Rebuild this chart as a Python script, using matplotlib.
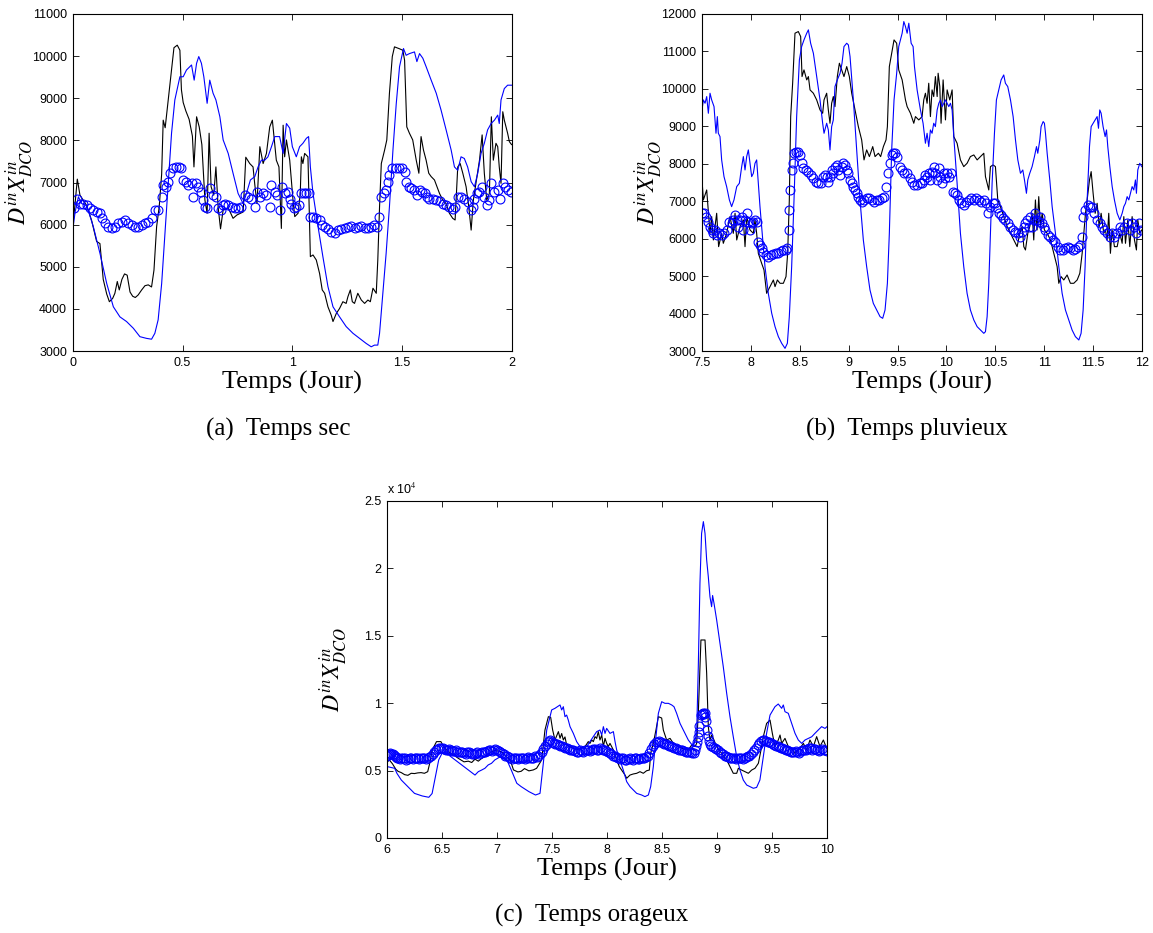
"""DCO inflow: measured (black), model (blue line) and filtered (circles) for three weather cases."""
import numpy as np
import matplotlib
matplotlib.use("Agg")
import matplotlib.pyplot as plt
from matplotlib.ticker import FuncFormatter

# ---- (a) Temps sec : (jour, valeur) ----
SEC_BLACK = [
    (0.000, 5950), (0.009, 6400), (0.021, 7080), (0.033, 6700), (0.064, 6450), (0.086, 6100),
    (0.109, 5600), (0.124, 5550), (0.139, 4700), (0.155, 4350), (0.167, 4170), (0.182, 4250),
    (0.192, 4370), (0.203, 4650), (0.212, 4450), (0.224, 4700), (0.236, 4830), (0.248, 4800),
    (0.261, 4400), (0.273, 4300), (0.285, 4270), (0.298, 4330), (0.314, 4450), (0.329, 4550),
    (0.344, 4570), (0.359, 4520), (0.370, 4920), (0.382, 5950), (0.394, 6430), (0.405, 7200),
    (0.412, 8480), (0.421, 8300), (0.435, 8960), (0.450, 9670), (0.461, 10200), (0.476, 10260),
    (0.488, 10140), (0.495, 9200), (0.503, 8900), (0.515, 8700), (0.530, 8500), (0.545, 8100),
    (0.552, 7370), (0.564, 8560), (0.576, 8320), (0.588, 7900), (0.602, 6580), (0.612, 6270),
    (0.621, 8170), (0.630, 6900), (0.642, 6700), (0.652, 7370), (0.662, 6420), (0.673, 5900),
    (0.685, 6350), (0.708, 6400), (0.730, 6150), (0.748, 6230), (0.776, 6300), (0.788, 7600),
    (0.806, 7450), (0.821, 7370), (0.829, 6950), (0.839, 6500), (0.852, 7850), (0.867, 7450),
    (0.882, 7690), (0.897, 8320), (0.909, 8480), (0.927, 7530), (0.939, 7370), (0.950, 5910),
    (0.958, 8360), (0.965, 7610), (0.973, 8010), (0.988, 7530), (1.003, 6580), (1.011, 6190),
    (1.026, 6270), (1.036, 6740), (1.041, 7610), (1.048, 7450), (1.056, 7690), (1.071, 7610),
    (1.082, 5240), (1.094, 5280), (1.109, 5160), (1.124, 4840), (1.136, 4450), (1.147, 4370),
    (1.162, 4050), (1.177, 3850), (1.185, 3700), (1.200, 3890), (1.215, 4010), (1.230, 4170),
    (1.245, 4130), (1.253, 4290), (1.264, 4450), (1.273, 4170), (1.283, 4130), (1.298, 4370),
    (1.314, 4210), (1.329, 4130), (1.344, 4210), (1.355, 4170), (1.367, 4490), (1.382, 4370),
    (1.389, 5160), (1.397, 6425), (1.405, 7450), (1.420, 7770), (1.430, 8010), (1.442, 9120),
    (1.455, 9990), (1.465, 10220), (1.485, 10180), (1.503, 10140), (1.511, 9900), (1.521, 8320),
    (1.533, 8170), (1.548, 8010), (1.564, 7530), (1.576, 7220), (1.586, 8090), (1.597, 7770),
    (1.609, 7530), (1.621, 7220), (1.632, 7140), (1.647, 7060), (1.670, 6740), (1.685, 6580),
    (1.700, 6500), (1.715, 6270), (1.730, 6150), (1.741, 6110), (1.753, 7370), (1.764, 7450),
    (1.776, 7220), (1.791, 6900), (1.803, 6430), (1.814, 5870), (1.824, 6580), (1.836, 6980),
    (1.852, 7530), (1.864, 8130), (1.874, 7220), (1.885, 6580), (1.897, 6740), (1.906, 8560),
    (1.915, 7530), (1.927, 7930), (1.935, 7850), (1.942, 7370), (1.950, 6980), (1.958, 8680),
    (1.965, 8480), (1.973, 8320), (1.980, 8170), (1.988, 7970), (1.998, 7900),
]
SEC_BLUE = [
    (0.000, 5870), (0.011, 6300), (0.026, 6660), (0.041, 6500), (0.064, 6450), (0.094, 5950),
    (0.124, 5320), (0.155, 4600), (0.185, 4050), (0.215, 3810), (0.245, 3700), (0.276, 3540),
    (0.306, 3340), (0.336, 3300), (0.359, 3280), (0.374, 3420), (0.389, 3740), (0.405, 4600),
    (0.420, 5790), (0.435, 6980), (0.450, 8170), (0.465, 8960), (0.488, 9510), (0.503, 9510),
    (0.518, 9670), (0.541, 9790), (0.553, 9430), (0.564, 9830), (0.574, 9990), (0.586, 9830),
    (0.597, 9510), (0.612, 8880), (0.624, 9430), (0.639, 9120), (0.652, 8960), (0.670, 8560),
    (0.685, 8010), (0.708, 7690), (0.730, 7220), (0.753, 6740), (0.776, 6500), (0.791, 6740),
    (0.809, 7060), (0.829, 7140), (0.844, 7370), (0.859, 7530), (0.874, 7530), (0.889, 7610),
    (0.905, 7850), (0.920, 8090), (0.942, 8090), (0.958, 7690), (0.973, 8400), (0.988, 8290),
    (1.000, 7850), (1.018, 7610), (1.033, 7850), (1.048, 7930), (1.064, 8050), (1.074, 8090),
    (1.082, 7370), (1.094, 6740), (1.117, 5950), (1.139, 5240), (1.162, 4530), (1.185, 4050),
    (1.215, 3810), (1.245, 3580), (1.276, 3420), (1.306, 3300), (1.336, 3180), (1.359, 3100),
    (1.374, 3140), (1.389, 3140), (1.397, 3420), (1.412, 4370), (1.427, 5320), (1.442, 6425),
    (1.458, 7770), (1.473, 8870), (1.488, 9750), (1.506, 10180), (1.518, 10020), (1.533, 10060),
    (1.556, 10100), (1.567, 9870), (1.579, 10060), (1.594, 9950), (1.609, 9750), (1.632, 9430),
    (1.655, 9120), (1.677, 8720), (1.700, 8250), (1.723, 7770), (1.738, 7370), (1.753, 7290),
    (1.768, 7610), (1.783, 7570), (1.798, 7370), (1.814, 7020), (1.829, 6900), (1.844, 7220),
    (1.859, 7690), (1.874, 7930), (1.889, 8250), (1.905, 8400), (1.920, 8480), (1.935, 8600),
    (1.942, 8400), (1.950, 8960), (1.965, 9230), (1.980, 9310), (1.998, 9310),
]
SEC_CIRC = [
    (0.006, 6390), (0.021, 6620), (0.033, 6500), (0.048, 6480), (0.064, 6460), (0.079, 6390),
    (0.094, 6350), (0.109, 6310), (0.124, 6270), (0.132, 6150), (0.147, 6030), (0.162, 5950),
    (0.177, 5910), (0.192, 5950), (0.208, 6030), (0.223, 6070), (0.238, 6110), (0.253, 6050),
    (0.268, 5990), (0.283, 5950), (0.298, 5950), (0.314, 5990), (0.329, 6030), (0.344, 6070),
    (0.359, 6150), (0.374, 6350), (0.389, 6350), (0.405, 6660), (0.412, 6940), (0.423, 6900),
    (0.435, 7020), (0.442, 7220), (0.455, 7340), (0.470, 7370), (0.485, 7370), (0.495, 7340),
    (0.503, 7060), (0.515, 7020), (0.526, 6940), (0.541, 6980), (0.548, 6660), (0.561, 6980),
    (0.571, 6900), (0.583, 6780), (0.594, 6580), (0.603, 6430), (0.612, 6390), (0.624, 6860),
    (0.639, 6700), (0.652, 6660), (0.662, 6390), (0.673, 6350), (0.682, 6470), (0.695, 6500),
    (0.709, 6470), (0.723, 6430), (0.738, 6390), (0.753, 6390), (0.768, 6430), (0.783, 6700),
    (0.798, 6660), (0.814, 6620), (0.829, 6430), (0.839, 6780), (0.852, 6660), (0.867, 6740),
    (0.882, 6700), (0.897, 6430), (0.905, 6940), (0.920, 6780), (0.930, 6700), (0.942, 6350),
    (0.955, 6900), (0.965, 6740), (0.980, 6780), (0.988, 6620), (0.995, 6500), (1.006, 6390),
    (1.018, 6430), (1.030, 6470), (1.041, 6740), (1.052, 6740), (1.064, 6740), (1.076, 6740),
    (1.082, 6190), (1.094, 6190), (1.109, 6150), (1.124, 6110), (1.136, 5990), (1.147, 5950),
    (1.162, 5890), (1.177, 5830), (1.192, 5790), (1.208, 5870), (1.223, 5890), (1.238, 5910),
    (1.253, 5950), (1.268, 5970), (1.283, 5910), (1.298, 5950), (1.314, 5970), (1.329, 5910),
    (1.344, 5910), (1.359, 5950), (1.374, 5990), (1.385, 5950), (1.394, 6190), (1.405, 6660),
    (1.415, 6740), (1.427, 6820), (1.435, 7020), (1.442, 7180), (1.455, 7340), (1.470, 7340),
    (1.485, 7340), (1.500, 7340), (1.511, 7260), (1.518, 7020), (1.530, 6900), (1.541, 6860),
    (1.556, 6820), (1.567, 6700), (1.579, 6820), (1.591, 6780), (1.602, 6740), (1.612, 6660),
    (1.624, 6620), (1.639, 6600), (1.655, 6580), (1.670, 6560), (1.685, 6500), (1.700, 6470),
    (1.715, 6410), (1.730, 6370), (1.742, 6430), (1.753, 6660), (1.768, 6660), (1.783, 6620),
    (1.798, 6540), (1.814, 6350), (1.821, 6430), (1.829, 6620), (1.839, 6740), (1.852, 6780),
    (1.862, 6900), (1.874, 6660), (1.885, 6470), (1.897, 6580), (1.906, 6980), (1.920, 6780),
    (1.935, 6820), (1.945, 6620), (1.958, 6980), (1.970, 6900), (1.980, 6820), (1.995, 6780),
]

# ---- (b) Temps pluvieux ----
PLUIE_BLACK = [
    (7.500, 7568), (7.514, 7034), (7.548, 7301), (7.582, 6143), (7.599, 6589), (7.616, 5965),
    (7.633, 6322), (7.650, 6678), (7.670, 5787), (7.701, 6143), (7.718, 5876), (7.752, 6143),
    (7.786, 6589), (7.820, 6143), (7.838, 6678), (7.855, 5965), (7.889, 6322), (7.923, 6500),
    (7.940, 5787), (7.957, 6589), (7.991, 6232), (8.025, 6143), (8.042, 6500), (8.059, 6143),
    (8.076, 5609), (8.110, 5342), (8.134, 5164), (8.161, 4541), (8.196, 4719), (8.230, 4897),
    (8.247, 4719), (8.271, 4897), (8.298, 4808), (8.332, 4808), (8.359, 4986), (8.376, 5609),
    (8.393, 7034), (8.407, 9260), (8.427, 10151), (8.451, 11487), (8.485, 11531), (8.509, 11398),
    (8.523, 10329), (8.543, 10507), (8.571, 10240), (8.588, 10329), (8.605, 9973), (8.639, 9884),
    (8.673, 9705), (8.707, 9438), (8.734, 9349), (8.748, 9705), (8.775, 9884), (8.792, 9438),
    (8.809, 9082), (8.826, 9616), (8.843, 9795), (8.860, 9527), (8.884, 10329), (8.905, 10685),
    (8.929, 10507), (8.952, 10329), (8.980, 10596), (9.007, 10329), (9.031, 9884), (9.065, 9438),
    (9.099, 8993), (9.133, 8637), (9.157, 8103), (9.184, 8370), (9.212, 8192), (9.246, 8459),
    (9.270, 8192), (9.304, 8281), (9.327, 8192), (9.355, 8459), (9.382, 8637), (9.396, 8993),
    (9.416, 10596), (9.440, 10952), (9.464, 11308), (9.491, 11219), (9.512, 10507), (9.547, 10240),
    (9.581, 9705), (9.598, 9527), (9.632, 9349), (9.666, 9082), (9.683, 9260), (9.717, 9171),
    (9.751, 9260), (9.768, 9705), (9.785, 9884), (9.802, 9616), (9.819, 10151), (9.836, 9260),
    (9.853, 9973), (9.870, 9795), (9.887, 10329), (9.905, 9795), (9.915, 10418), (9.932, 10062),
    (9.945, 9082), (9.966, 10240), (9.990, 9171), (10.007, 9973), (10.034, 9705), (10.058, 9973),
    (10.075, 8726), (10.109, 8548), (10.143, 8103), (10.177, 7924), (10.211, 8013), (10.245, 8192),
    (10.280, 8236), (10.314, 8103), (10.348, 8192), (10.382, 8281), (10.399, 7657), (10.416, 7479),
    (10.433, 7301), (10.450, 7924), (10.477, 7969), (10.501, 7924), (10.525, 7034), (10.552, 6856),
    (10.586, 6589), (10.621, 6322), (10.655, 6143), (10.689, 5965), (10.723, 5787), (10.750, 6143),
    (10.774, 6322), (10.791, 5787), (10.808, 5698), (10.832, 6143), (10.852, 6322), (10.876, 6678),
    (10.893, 5965), (10.910, 7034), (10.927, 6232), (10.944, 7123), (10.961, 6322), (10.979, 6678),
    (11.002, 6232), (11.030, 6143), (11.064, 5965), (11.098, 5609), (11.132, 5253), (11.149, 4808),
    (11.173, 4986), (11.200, 4897), (11.234, 5030), (11.268, 4808), (11.302, 4808), (11.337, 4897),
    (11.364, 5075), (11.388, 5609), (11.405, 6143), (11.422, 6678), (11.439, 7034), (11.463, 7568),
    (11.480, 7791), (11.500, 7212), (11.521, 6678), (11.541, 6945), (11.562, 6322), (11.582, 6678),
    (11.609, 6143), (11.626, 6232), (11.643, 5965), (11.660, 6678), (11.677, 5609), (11.694, 6232),
    (11.718, 5787), (11.746, 5787), (11.773, 6143), (11.797, 5876), (11.814, 6589), (11.831, 5876),
    (11.855, 6500), (11.875, 5787), (11.899, 6589), (11.923, 5965), (11.943, 5698), (11.957, 6500),
    (11.977, 6143), (11.998, 6232),
]
PLUIE_BLUE = [
    (7.500, 9438), (7.514, 9705), (7.531, 9616), (7.548, 9795), (7.565, 9349), (7.582, 9884),
    (7.599, 9705), (7.623, 9527), (7.643, 8815), (7.657, 9260), (7.667, 8815), (7.684, 8726),
    (7.701, 8103), (7.725, 7657), (7.752, 7390), (7.780, 7034), (7.803, 6856), (7.827, 7034),
    (7.855, 7390), (7.882, 7479), (7.906, 7924), (7.923, 8192), (7.940, 7835), (7.957, 8192),
    (7.974, 8370), (7.991, 8013), (8.008, 7657), (8.025, 7746), (8.042, 8013), (8.059, 8103),
    (8.076, 7479), (8.093, 6856), (8.121, 5965), (8.144, 5253), (8.178, 4541), (8.213, 4006),
    (8.247, 3650), (8.281, 3383), (8.315, 3205), (8.349, 3071), (8.373, 3205), (8.393, 3917),
    (8.417, 5253), (8.441, 7034), (8.468, 9260), (8.496, 10774), (8.519, 11130), (8.543, 11308),
    (8.571, 11487), (8.588, 11576), (8.611, 11219), (8.639, 10952), (8.673, 10329), (8.707, 9705),
    (8.734, 9082), (8.748, 8815), (8.775, 9082), (8.792, 8904), (8.809, 8370), (8.826, 8993),
    (8.843, 9171), (8.860, 10062), (8.884, 10240), (8.912, 10418), (8.932, 10685), (8.952, 11130),
    (8.980, 11219), (8.997, 11175), (9.014, 10863), (9.048, 9705), (9.082, 8370), (9.116, 7034),
    (9.150, 5965), (9.184, 5253), (9.218, 4630), (9.252, 4273), (9.286, 4095), (9.321, 3917),
    (9.348, 3873), (9.372, 4095), (9.396, 4808), (9.416, 6143), (9.440, 8370), (9.464, 9705),
    (9.491, 10418), (9.512, 11130), (9.547, 11487), (9.564, 11798), (9.581, 11665), (9.598, 11487),
    (9.615, 11754), (9.639, 11219), (9.659, 11130), (9.673, 10596), (9.700, 9973), (9.734, 9438),
    (9.761, 9082), (9.785, 8548), (9.802, 8815), (9.819, 8459), (9.836, 8904), (9.853, 8815),
    (9.870, 9082), (9.887, 8993), (9.905, 9438), (9.922, 9616), (9.939, 9705), (9.956, 9527),
    (9.973, 9616), (9.990, 9705), (10.007, 9616), (10.024, 9527), (10.041, 9616), (10.058, 9438),
    (10.075, 8726), (10.109, 7479), (10.143, 6143), (10.177, 5253), (10.211, 4541), (10.245, 4095),
    (10.280, 3828), (10.314, 3650), (10.348, 3561), (10.382, 3472), (10.399, 3516), (10.416, 3917),
    (10.433, 4808), (10.450, 6143), (10.467, 7479), (10.491, 8815), (10.511, 9705), (10.535, 9973),
    (10.559, 10240), (10.586, 10373), (10.603, 10151), (10.627, 10062), (10.655, 9705), (10.682, 9260),
    (10.706, 8637), (10.730, 8103), (10.757, 7746), (10.781, 7835), (10.798, 7568), (10.818, 7212),
    (10.832, 7568), (10.852, 7746), (10.876, 7924), (10.900, 8192), (10.921, 8459), (10.934, 8281),
    (10.955, 8637), (10.968, 8993), (10.989, 9127), (11.002, 9082), (11.013, 8815), (11.030, 8281),
    (11.057, 7568), (11.081, 6856), (11.115, 6143), (11.149, 5253), (11.183, 4541), (11.217, 4095),
    (11.251, 3828), (11.285, 3561), (11.319, 3383), (11.354, 3294), (11.377, 3472), (11.398, 4095),
    (11.418, 5253), (11.439, 7034), (11.463, 8459), (11.480, 8993), (11.500, 9082), (11.521, 9171),
    (11.541, 9260), (11.555, 8948), (11.568, 9438), (11.582, 9349), (11.602, 8993), (11.623, 8726),
    (11.637, 8904), (11.650, 8459), (11.671, 7924), (11.695, 7390), (11.718, 7034), (11.746, 6678),
    (11.773, 6500), (11.797, 6678), (11.814, 6856), (11.831, 6945), (11.848, 7123), (11.865, 7034),
    (11.882, 7212), (11.899, 7390), (11.916, 7301), (11.933, 7568), (11.943, 7212), (11.957, 7835),
    (11.977, 8013), (11.998, 7924),
]
PLUIE_CIRC = [
    (7.500, 6678), (7.520, 6678), (7.541, 6589), (7.565, 6455), (7.582, 6322), (7.599, 6232),
    (7.616, 6143), (7.633, 6232), (7.650, 6099), (7.677, 6143), (7.701, 6099), (7.725, 6143),
    (7.752, 6232), (7.780, 6455), (7.803, 6411), (7.820, 6500), (7.838, 6633), (7.855, 6500),
    (7.872, 6322), (7.889, 6500), (7.906, 6589), (7.923, 6232), (7.940, 6500), (7.957, 6678),
    (7.974, 6455), (7.991, 6232), (8.008, 6411), (8.025, 6455), (8.042, 6500), (8.059, 6455),
    (8.076, 5921), (8.093, 5832), (8.110, 5743), (8.127, 5654), (8.155, 5565), (8.178, 5520),
    (8.202, 5565), (8.230, 5591), (8.257, 5627), (8.281, 5609), (8.305, 5680), (8.332, 5698),
    (8.359, 5698), (8.373, 5743), (8.386, 6232), (8.393, 6767), (8.400, 7301), (8.417, 7835),
    (8.434, 8013), (8.444, 8281), (8.461, 8325), (8.485, 8325), (8.502, 8236), (8.519, 8013),
    (8.536, 7880), (8.560, 7835), (8.588, 7791), (8.611, 7702), (8.639, 7613), (8.666, 7524),
    (8.690, 7479), (8.714, 7479), (8.741, 7657), (8.758, 7702), (8.775, 7657), (8.792, 7524),
    (8.809, 7657), (8.826, 7835), (8.843, 7746), (8.860, 7924), (8.877, 7969), (8.894, 7835),
    (8.912, 7702), (8.929, 7924), (8.946, 8013), (8.963, 7969), (8.980, 7835), (8.997, 7746),
    (9.014, 7568), (9.031, 7479), (9.048, 7390), (9.065, 7301), (9.082, 7212), (9.099, 7123),
    (9.116, 7034), (9.133, 6989), (9.157, 7034), (9.184, 7078), (9.212, 7078), (9.235, 7034),
    (9.259, 6989), (9.287, 7034), (9.314, 7034), (9.338, 7078), (9.362, 7123), (9.382, 7390),
    (9.406, 7746), (9.423, 8013), (9.440, 8236), (9.457, 8281), (9.474, 8281), (9.491, 8192),
    (9.523, 7924), (9.547, 7835), (9.570, 7746), (9.598, 7746), (9.625, 7613), (9.649, 7524),
    (9.673, 7435), (9.700, 7435), (9.727, 7479), (9.751, 7479), (9.768, 7568), (9.785, 7702),
    (9.802, 7657), (9.819, 7746), (9.836, 7568), (9.853, 7791), (9.870, 7924), (9.887, 7746),
    (9.905, 7568), (9.922, 7880), (9.939, 7657), (9.956, 7479), (9.973, 7746), (9.990, 7613),
    (10.007, 7746), (10.024, 7657), (10.048, 7746), (10.068, 7257), (10.092, 7212), (10.109, 7168),
    (10.133, 7034), (10.150, 6945), (10.177, 6900), (10.205, 6989), (10.228, 7034), (10.252, 7078),
    (10.280, 7034), (10.307, 7078), (10.331, 7034), (10.355, 6989), (10.382, 7034), (10.409, 6945),
    (10.423, 6678), (10.450, 6856), (10.477, 6945), (10.501, 6945), (10.518, 6811), (10.535, 6678),
    (10.559, 6633), (10.580, 6544), (10.603, 6500), (10.627, 6411), (10.655, 6322), (10.682, 6232),
    (10.706, 6188), (10.730, 6143), (10.750, 6054), (10.774, 6188), (10.791, 6322), (10.808, 6411),
    (10.825, 6500), (10.842, 6322), (10.859, 6589), (10.876, 6322), (10.893, 6500), (10.910, 6678),
    (10.927, 6500), (10.944, 6455), (10.961, 6589), (10.979, 6411), (10.996, 6322), (11.013, 6232),
    (11.036, 6099), (11.064, 6054), (11.091, 5965), (11.115, 5921), (11.139, 5787), (11.166, 5698),
    (11.190, 5698), (11.217, 5743), (11.241, 5787), (11.268, 5743), (11.296, 5698), (11.319, 5716),
    (11.343, 5787), (11.364, 5832), (11.388, 6054), (11.398, 6589), (11.422, 6767), (11.446, 6900),
    (11.466, 6856), (11.490, 6856), (11.514, 6678), (11.541, 6500), (11.568, 6411), (11.592, 6322),
    (11.616, 6232), (11.643, 6143), (11.671, 6054), (11.695, 6143), (11.718, 6054), (11.746, 6143),
    (11.773, 6322), (11.797, 6232), (11.821, 6322), (11.848, 6411), (11.875, 6232), (11.899, 6411),
    (11.923, 6322), (11.943, 6143), (11.967, 6411), (11.991, 6232),
]

# ---- (c) Temps orageux ----
ORAGE_BLACK = [
    (6.000, 5600), (6.020, 5800), (6.050, 5500), (6.080, 5100), (6.100, 4950), (6.130, 4850),
    (6.160, 4700), (6.190, 4650), (6.220, 4800), (6.250, 4780), (6.280, 4830), (6.310, 4850),
    (6.340, 4800), (6.370, 4920), (6.390, 5600), (6.410, 6500), (6.450, 7150), (6.490, 7150),
    (6.520, 6700), (6.560, 6400), (6.600, 6200), (6.650, 5900), (6.700, 5650), (6.740, 5700),
    (6.770, 5600), (6.800, 5850), (6.830, 5700), (6.860, 5900), (6.900, 6100), (6.950, 6400),
    (6.980, 6500), (7.040, 6400), (7.090, 6000), (7.120, 5800), (7.150, 5050), (7.190, 4900),
    (7.220, 4950), (7.250, 5150), (7.290, 4980), (7.330, 5050), (7.360, 5170), (7.406, 5790),
    (7.436, 8010), (7.467, 9000), (7.488, 8950), (7.506, 8010), (7.527, 7270), (7.558, 7890),
    (7.573, 7400), (7.588, 7750), (7.603, 7270), (7.618, 7500), (7.633, 6900), (7.664, 6780),
    (7.694, 6650), (7.724, 6530), (7.755, 6650), (7.800, 6780), (7.830, 7150), (7.845, 7020),
    (7.861, 7270), (7.876, 7150), (7.891, 7520), (7.906, 7390), (7.921, 7890), (7.936, 7270),
    (7.952, 7640), (7.967, 6780), (7.982, 7390), (7.997, 7020), (8.012, 6780), (8.027, 7020),
    (8.042, 6780), (8.058, 6530), (8.073, 6160), (8.088, 5790), (8.112, 5290), (8.133, 5040),
    (8.164, 4670), (8.179, 4430), (8.209, 4670), (8.239, 4750), (8.270, 4800), (8.300, 4920),
    (8.330, 4800), (8.360, 4990), (8.385, 5040), (8.397, 6280), (8.421, 7020), (8.445, 8010),
    (8.467, 9000), (8.497, 8900), (8.512, 8010), (8.542, 7270), (8.573, 7390), (8.603, 7020),
    (8.633, 6900), (8.679, 6650), (8.739, 6530), (8.770, 6900), (8.800, 6780), (8.815, 7020),
    (8.830, 9250), (8.845, 12710), (8.854, 14690), (8.891, 14690), (8.906, 12220), (8.921, 8260),
    (8.936, 7270), (8.951, 7640), (8.966, 7390), (8.997, 6780), (9.042, 6280), (9.088, 5790),
    (9.118, 5290), (9.148, 4800), (9.179, 4800), (9.194, 5170), (9.224, 5040), (9.254, 4920),
    (9.285, 4800), (9.315, 5040), (9.345, 5170), (9.376, 5540), (9.400, 6530), (9.421, 7520),
    (9.451, 8500), (9.482, 8750), (9.503, 7770), (9.527, 6780), (9.557, 7270), (9.573, 7640),
    (9.588, 7020), (9.618, 7390), (9.648, 6780), (9.679, 6650), (9.709, 6280), (9.755, 6650),
    (9.785, 7020), (9.815, 6530), (9.845, 7270), (9.876, 6780), (9.906, 7520), (9.936, 6780),
    (9.967, 7270), (9.997, 6650),
]
ORAGE_BLUE = [
    (6.000, 5300), (6.070, 5170), (6.090, 4800), (6.130, 4300), (6.190, 3810), (6.250, 3310),
    (6.320, 3120), (6.380, 3020), (6.410, 3300), (6.440, 4550), (6.470, 5790), (6.500, 6280),
    (6.560, 6160), (6.620, 5790), (6.680, 5420), (6.740, 5040), (6.800, 4670), (6.830, 4920),
    (6.860, 5040), (6.890, 5170), (6.920, 5420), (6.950, 5540), (6.980, 5790), (7.030, 6030),
    (7.090, 5790), (7.130, 5040), (7.180, 4060), (7.220, 3810), (7.290, 3440), (7.350, 3190),
    (7.391, 3310), (7.421, 5540), (7.452, 8010), (7.497, 9500), (7.527, 9620), (7.573, 9870),
    (7.588, 9500), (7.603, 9740), (7.618, 9000), (7.633, 9120), (7.648, 8750), (7.664, 8260),
    (7.694, 7760), (7.724, 7150), (7.755, 6780), (7.785, 6650), (7.815, 6780), (7.845, 7150),
    (7.876, 7520), (7.906, 7890), (7.936, 8010), (7.952, 7640), (7.967, 8260), (7.982, 7760),
    (7.997, 8130), (8.027, 7760), (8.058, 7890), (8.073, 7150), (8.088, 6530), (8.118, 5790),
    (8.148, 5040), (8.179, 4180), (8.209, 3810), (8.239, 3560), (8.270, 3310), (8.315, 3190),
    (8.345, 3070), (8.376, 3190), (8.397, 3810), (8.421, 5290), (8.445, 7520), (8.467, 9250),
    (8.497, 10110), (8.527, 9990), (8.558, 9990), (8.588, 9870), (8.609, 9740), (8.633, 9250),
    (8.664, 8500), (8.709, 7770), (8.739, 7270), (8.785, 6780), (8.815, 7770), (8.830, 12710),
    (8.845, 18890), (8.860, 22600), (8.876, 23470), (8.891, 22600), (8.906, 20620), (8.921, 19380),
    (8.936, 17900), (8.951, 17160), (8.960, 17990), (8.973, 17400), (8.997, 16170), (9.027, 14440),
    (9.057, 12710), (9.088, 10730), (9.118, 9000), (9.148, 7510), (9.179, 6030), (9.209, 5040),
    (9.239, 4300), (9.270, 3930), (9.300, 3810), (9.330, 3690), (9.360, 3750), (9.390, 4300),
    (9.421, 6030), (9.451, 7770), (9.482, 9120), (9.527, 9740), (9.557, 9940), (9.588, 9620),
    (9.603, 9870), (9.618, 9370), (9.648, 9250), (9.679, 8500), (9.709, 7770), (9.739, 7270),
    (9.770, 7020), (9.800, 7270), (9.830, 7390), (9.861, 7510), (9.891, 7770), (9.921, 8010),
    (9.951, 8260), (9.982, 8130), (10.000, 8260),
]
ORAGE_CIRC = [
    (6.00, 6100), (6.02, 6200), (6.04, 6250), (6.06, 6150), (6.08, 6000), (6.10, 5950),
    (6.13, 5900), (6.16, 5900), (6.19, 5880), (6.22, 5900), (6.25, 5900), (6.28, 5900),
    (6.31, 5920), (6.34, 5920), (6.37, 5950), (6.40, 6100), (6.43, 6400), (6.46, 6600),
    (6.49, 6700), (6.52, 6600), (6.55, 6550), (6.58, 6500), (6.61, 6450), (6.64, 6400),
    (6.67, 6380), (6.70, 6300), (6.73, 6350), (6.76, 6300), (6.79, 6250), (6.82, 6350),
    (6.85, 6300), (6.88, 6400), (6.91, 6450), (6.94, 6500), (6.97, 6550), (7.00, 6500),
    (7.03, 6350), (7.06, 6200), (7.09, 6050), (7.12, 5950), (7.15, 5900), (7.18, 5920),
    (7.21, 5900), (7.24, 5920), (7.27, 5900), (7.30, 5950), (7.33, 5950), (7.36, 6000),
    (7.39, 6200), (7.42, 6600), (7.45, 7000), (7.47, 7200), (7.50, 7100), (7.53, 7000),
    (7.56, 6900), (7.59, 6800), (7.62, 6700), (7.65, 6600), (7.68, 6500), (7.71, 6450),
    (7.74, 6400), (7.77, 6450), (7.80, 6500), (7.83, 6550), (7.86, 6500), (7.89, 6600),
    (7.92, 6550), (7.95, 6600), (7.98, 6500), (8.01, 6400), (8.04, 6200), (8.07, 6050),
    (8.10, 5950), (8.13, 5900), (8.16, 5800), (8.19, 5850), (8.22, 5850), (8.25, 5900),
    (8.28, 5850), (8.31, 5900), (8.34, 5950), (8.37, 6100), (8.40, 6600), (8.43, 7000),
    (8.46, 7150), (8.49, 7100), (8.52, 7000), (8.55, 6900), (8.58, 6800), (8.61, 6700),
    (8.64, 6600), (8.67, 6500), (8.70, 6450), (8.73, 6400), (8.76, 6350), (8.79, 6300),
    (8.80, 6500), (8.81, 6800), (8.83, 7500), (8.84, 8300), (8.85, 9100), (8.86, 9200),
    (8.87, 9250), (8.88, 9200), (8.89, 9250), (8.90, 8700), (8.91, 8000), (8.93, 7200),
    (8.95, 6800), (8.98, 6700), (9.01, 6500), (9.04, 6300), (9.07, 6100), (9.10, 6000),
    (9.13, 5950), (9.16, 5900), (9.19, 5900), (9.22, 5900), (9.25, 5950), (9.28, 6050),
    (9.31, 6200), (9.34, 6500), (9.37, 6900), (9.40, 7200), (9.43, 7250), (9.46, 7150),
    (9.49, 7050), (9.52, 6900), (9.55, 6800), (9.58, 6700), (9.61, 6600), (9.64, 6500),
    (9.67, 6400), (9.70, 6400), (9.73, 6350), (9.76, 6450), (9.79, 6500), (9.82, 6600),
    (9.85, 6650), (9.88, 6600), (9.91, 6500), (9.94, 6500), (9.97, 6550), (10.00, 6450),
]
# the band in (c) is thick: second set of circles read between the first ones
ORAGE_CIRC2 = [
    (6.010, 6150), (6.030, 6300), (6.050, 6200), (6.070, 6050), (6.090, 5900), (6.115, 5850),
    (6.145, 5950), (6.175, 5800), (6.205, 5950), (6.235, 5850), (6.265, 5950), (6.295, 5850),
    (6.325, 5950), (6.355, 5880), (6.385, 6000), (6.415, 6250), (6.445, 6550), (6.475, 6700),
    (6.505, 6650), (6.535, 6500), (6.565, 6600), (6.595, 6450), (6.625, 6500), (6.655, 6350),
    (6.685, 6400), (6.715, 6250), (6.745, 6400), (6.775, 6250), (6.805, 6300), (6.835, 6250),
    (6.865, 6400), (6.895, 6350), (6.925, 6500), (6.955, 6450), (6.985, 6600), (7.015, 6450),
    (7.045, 6300), (7.075, 6100), (7.105, 6000), (7.135, 5850), (7.165, 5950), (7.195, 5850),
    (7.225, 5950), (7.255, 5850), (7.285, 5980), (7.315, 5900), (7.345, 6050), (7.375, 6100),
    (7.405, 6400), (7.435, 6850), (7.460, 7100), (7.485, 7250), (7.515, 7050), (7.545, 6950),
    (7.575, 6850), (7.605, 6750), (7.635, 6650), (7.665, 6550), (7.695, 6500), (7.725, 6400),
    (7.755, 6500), (7.785, 6400), (7.815, 6550), (7.845, 6450), (7.875, 6600), (7.905, 6500),
    (7.935, 6650), (7.965, 6550), (7.995, 6450), (8.025, 6300), (8.055, 6100), (8.085, 6000),
    (8.115, 5850), (8.145, 5900), (8.175, 5800), (8.205, 5900), (8.235, 5800), (8.265, 5900),
    (8.295, 5850), (8.325, 5950), (8.355, 6000), (8.385, 6300), (8.415, 6800), (8.445, 7100),
    (8.475, 7200), (8.505, 7050), (8.535, 6950), (8.565, 6850), (8.595, 6750), (8.625, 6650),
    (8.655, 6550), (8.685, 6500), (8.715, 6400), (8.745, 6400), (8.775, 6300), (8.820, 7150),
    (8.835, 7900), (8.895, 9000), (8.920, 7600), (8.940, 7000), (8.965, 6750), (8.995, 6600),
    (9.025, 6400), (9.055, 6200), (9.085, 6050), (9.115, 5950), (9.145, 5950), (9.175, 5850),
    (9.205, 5950), (9.235, 5850), (9.265, 6000), (9.295, 6100), (9.325, 6350), (9.355, 6700),
    (9.385, 7050), (9.415, 7250), (9.445, 7200), (9.475, 7100), (9.505, 6950), (9.535, 6850),
    (9.565, 6750), (9.595, 6650), (9.625, 6550), (9.655, 6450), (9.685, 6350), (9.715, 6450),
    (9.745, 6300), (9.775, 6500), (9.805, 6550), (9.835, 6650), (9.865, 6550), (9.895, 6600),
    (9.925, 6450), (9.955, 6600), (9.985, 6500),
]

SEC_XTICKS = [0, 0.5, 1, 1.5, 2]
SEC_YTICKS = [3000, 4000, 5000, 6000, 7000, 8000, 9000, 10000, 11000]
PLUIE_XTICKS = [7.5, 8, 8.5, 9, 9.5, 10, 10.5, 11, 11.5, 12]
PLUIE_YTICKS = [3000, 4000, 5000, 6000, 7000, 8000, 9000, 10000, 11000, 12000]
ORAGE_XTICKS = [6, 6.5, 7, 7.5, 8, 8.5, 9, 9.5, 10]
ORAGE_YTICKS = [0, 5000, 10000, 15000, 20000, 25000]

plt.rcParams["font.family"] = ["Liberation Sans", "DejaVu Sans"]
plt.rcParams["mathtext.fontset"] = "stix"
SERIF = ["Liberation Serif", "DejaVu Serif"]
BLUE = "#0000ff"

fig = plt.figure(figsize=(11.53, 9.33), dpi=100)
W, H = 1153.0, 933.0


def panel(rect_px, black, blue, circs, xlim, ylim, xticks, yticks, ylab_fmt=None):
    x0, y0, x1, y1 = rect_px
    ax = fig.add_axes([x0 / W, 1 - y1 / H, (x1 - x0) / W, (y1 - y0) / H])
    b = np.array(black, float).T
    u = np.array(blue, float).T
    ax.plot(b[0], b[1], "-", color="k", lw=0.8)
    ax.plot(u[0], u[1], "-", color=BLUE, lw=0.8)
    for circ in circs:
        c = np.array(circ, float).T
        ax.plot(c[0], c[1], "o", mfc="none", mec=BLUE, ms=6.4, mew=0.8, ls="none")
    ax.set_xlim(*xlim); ax.set_ylim(*ylim)
    ax.set_xticks(xticks); ax.set_yticks(yticks)
    ax.xaxis.set_major_formatter(FuncFormatter(lambda v, p: f"{v:g}"))
    if ylab_fmt:
        ax.yaxis.set_major_formatter(FuncFormatter(ylab_fmt))
    ax.tick_params(direction="in", top=True, right=True, length=4, width=0.6,
                   labelsize=9, pad=4)
    for s in ax.spines.values():
        s.set_linewidth(0.8)
    ax.set_xlabel("Temps (Jour)", family=SERIF, fontsize=19, labelpad=2)
    ax.set_ylabel(r"$D^{in}X^{in}_{DCO}$", fontsize=17)
    ax.yaxis.set_label_coords(-0.083, 0.5)
    return ax


panel((72.7, 14, 512, 351), SEC_BLACK, SEC_BLUE, [SEC_CIRC], (0, 2), (3000, 11000),
      SEC_XTICKS, SEC_YTICKS)
panel((702, 14, 1142, 351), PLUIE_BLACK, PLUIE_BLUE, [PLUIE_CIRC], (7.5, 12), (3000, 12000),
      PLUIE_XTICKS, PLUIE_YTICKS)
axc = panel((387, 501, 827, 838), ORAGE_BLACK, ORAGE_BLUE, [ORAGE_CIRC, ORAGE_CIRC2], (6, 10),
            (0, 25000), ORAGE_XTICKS, ORAGE_YTICKS, ylab_fmt=lambda v, p: f"{v / 1e4:g}")
axc.text(0.0, 1.012, r"x 10$^{4}$", transform=axc.transAxes, fontsize=9,
         family="Liberation Sans", va="bottom", ha="left")

fig.text(278 / W, 1 - 429 / H, "(a)  Temps sec", family=SERIF, fontsize=18,
         ha="center", va="center")
fig.text(907 / W, 1 - 429 / H, "(b)  Temps pluvieux", family=SERIF, fontsize=18,
         ha="center", va="center")
fig.text(592 / W, 1 - 915 / H, "(c)  Temps orageux", family=SERIF, fontsize=18,
         ha="center", va="center")

fig.savefig("out.png", dpi=100)
